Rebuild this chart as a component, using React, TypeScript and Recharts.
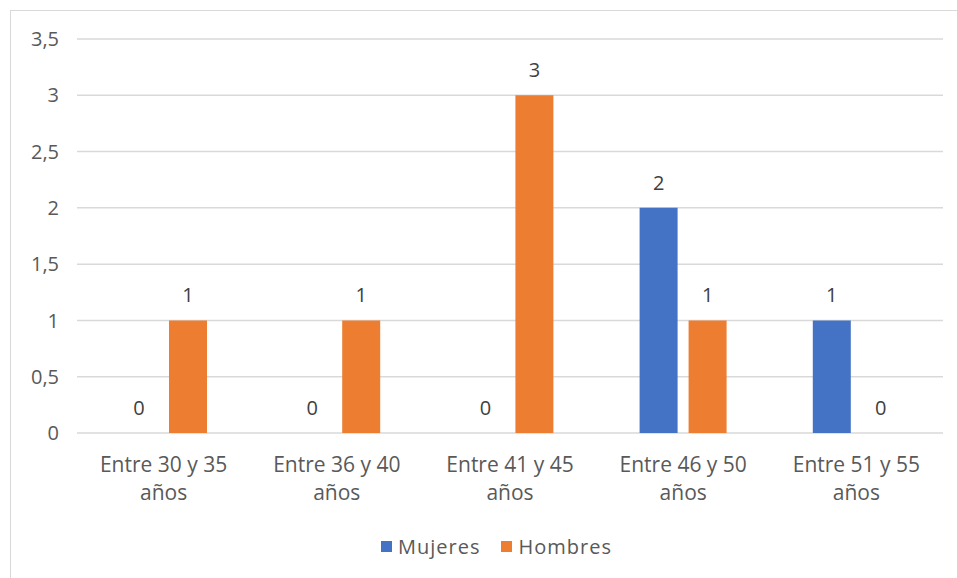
import { BarChart, Bar, XAxis, YAxis, CartesianGrid, Legend, LabelList } from 'recharts';

const categories = ['Entre 30 y 35 años', 'Entre 36 y 40 años', 'Entre 41 y 45 años', 'Entre 46 y 50 años', 'Entre 51 y 55 años'];
const mujeres = [0, 0, 0, 2, 1];
const hombres = [1, 1, 3, 1, 0];
const yTicks = [0, 0.5, 1, 1.5, 2, 2.5, 3, 3.5];

const series = [
    { key: 'mujeres', name: 'Mujeres', color: '#4472C4' },
    { key: 'hombres', name: 'Hombres', color: '#ED7D31' },
];

const data = categories.map((cat, i) => ({ cat, mujeres: mujeres[i], hombres: hombres[i] }));

const FONT = '"Open Sans", sans-serif';

// splits "Entre 30 y 35 años" into two lines, breaking before the last word
function CategoryTick({ x, y, payload }: any) {
    const label: string = payload.value;
    const cut = label.lastIndexOf(' ');
    return (
        <text x={x} y={y} textAnchor="middle" fill="#595959" fontSize={21} fontFamily={FONT}>
            <tspan x={x} dy={31}>{label.slice(0, cut)}</tspan>
            <tspan x={x} dy={28}>{label.slice(cut + 1)}</tspan>
        </text>
    );
}

function LegendContent() {
    return (
        <div style={{ display: 'flex', alignItems: 'center', fontFamily: FONT, fontSize: 20, letterSpacing: 1, color: '#595959' }}>
            {series.map((s, i) => (
                <div key={s.key} style={{ display: 'flex', alignItems: 'center', marginRight: i === 0 ? 21 : 0 }}>
                    <span style={{ width: 11, height: 11, background: s.color, display: 'inline-block', marginRight: 6 }} />
                    <span>{s.name}</span>
                </div>
            ))}
        </div>
    );
}

export default function App() {
    return (
        <div style={{ position: 'fixed', left: 0, top: 0, width: 957, height: 578, overflow: 'hidden', background: '#fff' }}>
            <div style={{ position: 'absolute', left: 10, top: 10, width: 980, height: 600, border: '1.5px solid #d9d9d9' }} />
            <div style={{ position: 'absolute', left: 0, top: 0 }}>
                <BarChart
                    width={957}
                    height={578}
                    data={data}
                    margin={{ top: 39, right: 14, bottom: 85, left: 0 }}
                    barSize={38}
                    barGap={11}
                >
                    <CartesianGrid stroke="#d9d9d9" strokeWidth={1.5} vertical={false} />
                    <XAxis
                        dataKey="cat"
                        axisLine={false}
                        tickLine={false}
                        tick={<CategoryTick />}
                        interval={0}
                        height={60}
                    />
                    <YAxis
                        domain={[0, 3.5]}
                        ticks={yTicks}
                        width={77}
                        axisLine={false}
                        tickLine={false}
                        tickMargin={12}
                        tick={{ fill: '#595959', fontSize: 20, fontFamily: FONT }}
                        tickFormatter={(v: number) => String(v).replace('.', ',')}
                    />
                    <Legend
                        verticalAlign="middle"
                        align="center"
                        content={<LegendContent />}
                        wrapperStyle={{ top: 533, left: 381, width: 'auto' }}
                    />
                    {series.map((s) => (
                        <Bar key={s.key} dataKey={s.key} name={s.name} fill={s.color} minPointSize={0.01} isAnimationActive={false}>
                            <LabelList dataKey={s.key} position="top" offset={18} fill="#404040" fontSize={20} fontFamily={FONT} />
                        </Bar>
                    ))}
                </BarChart>
            </div>
        </div>
    );
}
